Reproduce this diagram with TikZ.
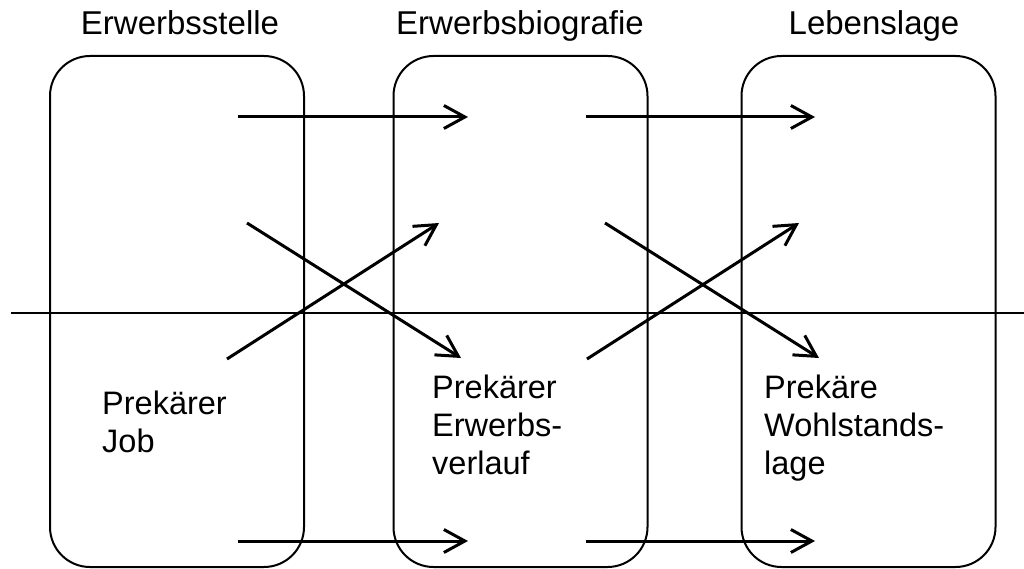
\documentclass[tikz,border=0pt]{standalone}
\usepackage{fontspec}
\setmainfont{Liberation Sans}
\usetikzlibrary{arrows.meta}
\begin{document}
\begin{tikzpicture}[x=1pt,y=-1pt,
  box/.style={draw,line width=2pt,rounded corners=40pt,minimum width=254pt,minimum height=511pt,inner sep=0pt},
  conn/.style={line width=3pt,-{Straight Barb[length=21pt,width=23pt,line width=3pt]}},
  title/.style={font=\fontsize{33}{38}\selectfont,anchor=base},
  lbl/.style={font=\fontsize{32.5}{38}\selectfont,anchor=base west,inner sep=0pt,align=left}]
\useasboundingbox (0,0) rectangle (1024,569);
\node[box] (b1) at (177,311.5) {};
\node[box] (b2) at (520.5,311.5) {};
\node[box] (b3) at (868.5,311.5) {};
\coordinate (hl) at (11,313);
\coordinate (hr) at (1024,313);
\draw[line width=2pt] (hl) -- (hr);
\node[title] (t1) at (180,35) {Erwerbsstelle};
\node[title] (t2) at (520,35) {Erwerbsbiografie};
\node[title] (t3) at (874,35) {Lebenslage};
\node[lbl] (l1) at (102,452) {Prekärer\\Job};
\node[lbl] (l2) at (432,474) {Prekärer\\Erwerbs-\\verlauf};
\node[lbl] (l3) at (764,474) {Prekäre\\Wohlstands-\\lage};
% arrow coordinates
\coordinate (a1s) at (238,117); \coordinate (a1e) at (468,117);
\coordinate (a2s) at (586,117); \coordinate (a2e) at (815,117);
\coordinate (a3s) at (238,541); \coordinate (a3e) at (468,541);
\coordinate (a4s) at (586,541); \coordinate (a4e) at (815,541);
\coordinate (d1s) at (247,223); \coordinate (d1e) at (461,358);
\coordinate (d2s) at (605,223); \coordinate (d2e) at (819,358);
\coordinate (u1s) at (227,359); \coordinate (u1e) at (439,223);
\coordinate (u2s) at (587,359); \coordinate (u2e) at (799,223);
\draw[conn] (a1s) -- (a1e);
\draw[conn] (a2s) -- (a2e);
\draw[conn] (a3s) -- (a3e);
\draw[conn] (a4s) -- (a4e);
\draw[conn] (d1s) -- (d1e);
\draw[conn] (d2s) -- (d2e);
\draw[conn] (u1s) -- (u1e);
\draw[conn] (u2s) -- (u2e);
\end{tikzpicture}
\end{document}
